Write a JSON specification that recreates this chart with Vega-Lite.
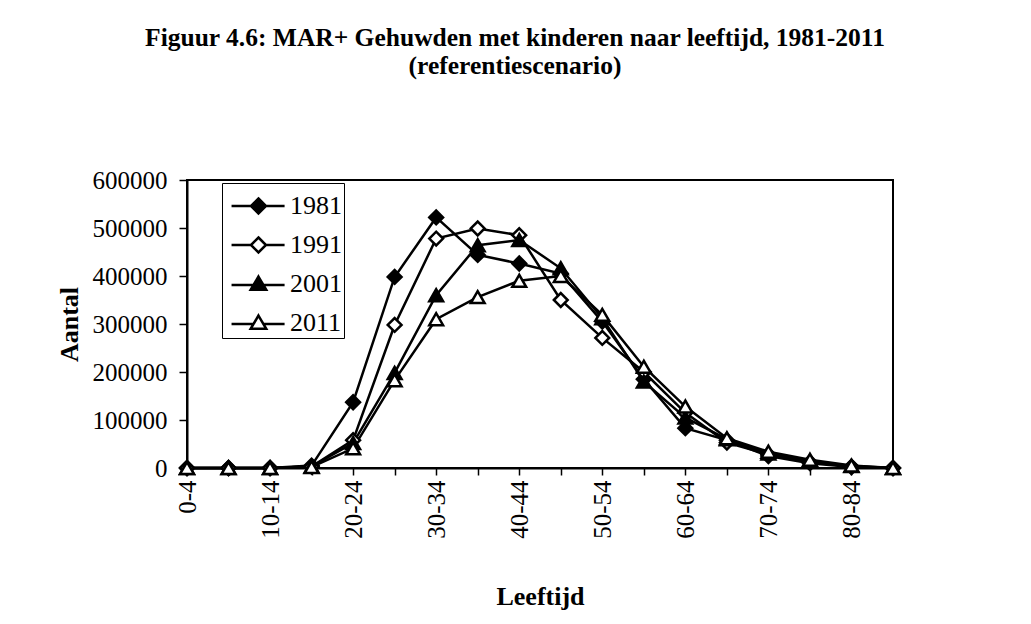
{
  "$schema": "https://vega.github.io/schema/vega-lite/v6.json",
  "width": 706,
  "height": 288,
  "autosize": {"type": "none"},
  "padding": {"left": 187, "top": 180, "right": 138, "bottom": 156},
  "background": "white",
  "title": {
    "text": ["Figuur 4.6: MAR+ Gehuwden met kinderen naar leeftijd, 1981-2011", "(referentiescenario)"],
    "font": "Liberation Serif",
    "fontSize": 25.5,
    "fontWeight": "bold",
    "color": "black",
    "anchor": "middle",
    "frame": "group",
    "dx": -25,
    "offset": 89,
    "lineHeight": 28
  },
  "data": {
    "values": [
      {"jaar": "1981", "leeftijd": "0-4", "aantal": 0},
      {"jaar": "1981", "leeftijd": "5-9", "aantal": 0},
      {"jaar": "1981", "leeftijd": "10-14", "aantal": 0},
      {"jaar": "1981", "leeftijd": "15-19", "aantal": 5000},
      {"jaar": "1981", "leeftijd": "20-24", "aantal": 137000},
      {"jaar": "1981", "leeftijd": "25-29", "aantal": 398000},
      {"jaar": "1981", "leeftijd": "30-34", "aantal": 522000},
      {"jaar": "1981", "leeftijd": "35-39", "aantal": 444000},
      {"jaar": "1981", "leeftijd": "40-44", "aantal": 426000},
      {"jaar": "1981", "leeftijd": "45-49", "aantal": 405000},
      {"jaar": "1981", "leeftijd": "50-54", "aantal": 305000},
      {"jaar": "1981", "leeftijd": "55-59", "aantal": 185000},
      {"jaar": "1981", "leeftijd": "60-64", "aantal": 83000},
      {"jaar": "1981", "leeftijd": "65-69", "aantal": 58000},
      {"jaar": "1981", "leeftijd": "70-74", "aantal": 25000},
      {"jaar": "1981", "leeftijd": "75-79", "aantal": 10000},
      {"jaar": "1981", "leeftijd": "80-84", "aantal": 2000},
      {"jaar": "1981", "leeftijd": "85+", "aantal": 0},
      {"jaar": "1991", "leeftijd": "0-4", "aantal": 0},
      {"jaar": "1991", "leeftijd": "5-9", "aantal": 0},
      {"jaar": "1991", "leeftijd": "10-14", "aantal": 0},
      {"jaar": "1991", "leeftijd": "15-19", "aantal": 3000},
      {"jaar": "1991", "leeftijd": "20-24", "aantal": 58000},
      {"jaar": "1991", "leeftijd": "25-29", "aantal": 298000},
      {"jaar": "1991", "leeftijd": "30-34", "aantal": 478000},
      {"jaar": "1991", "leeftijd": "35-39", "aantal": 499000},
      {"jaar": "1991", "leeftijd": "40-44", "aantal": 485000},
      {"jaar": "1991", "leeftijd": "45-49", "aantal": 350000},
      {"jaar": "1991", "leeftijd": "50-54", "aantal": 271000},
      {"jaar": "1991", "leeftijd": "55-59", "aantal": 200000},
      {"jaar": "1991", "leeftijd": "60-64", "aantal": 115000},
      {"jaar": "1991", "leeftijd": "65-69", "aantal": 53000},
      {"jaar": "1991", "leeftijd": "70-74", "aantal": 28000},
      {"jaar": "1991", "leeftijd": "75-79", "aantal": 12000},
      {"jaar": "1991", "leeftijd": "80-84", "aantal": 3000},
      {"jaar": "1991", "leeftijd": "85+", "aantal": 0},
      {"jaar": "2001", "leeftijd": "0-4", "aantal": 0},
      {"jaar": "2001", "leeftijd": "5-9", "aantal": 0},
      {"jaar": "2001", "leeftijd": "10-14", "aantal": 0},
      {"jaar": "2001", "leeftijd": "15-19", "aantal": 3000},
      {"jaar": "2001", "leeftijd": "20-24", "aantal": 52000},
      {"jaar": "2001", "leeftijd": "25-29", "aantal": 198000},
      {"jaar": "2001", "leeftijd": "30-34", "aantal": 360000},
      {"jaar": "2001", "leeftijd": "35-39", "aantal": 464000},
      {"jaar": "2001", "leeftijd": "40-44", "aantal": 475000},
      {"jaar": "2001", "leeftijd": "45-49", "aantal": 416000},
      {"jaar": "2001", "leeftijd": "50-54", "aantal": 312000},
      {"jaar": "2001", "leeftijd": "55-59", "aantal": 180000},
      {"jaar": "2001", "leeftijd": "60-64", "aantal": 105000},
      {"jaar": "2001", "leeftijd": "65-69", "aantal": 60000},
      {"jaar": "2001", "leeftijd": "70-74", "aantal": 30000},
      {"jaar": "2001", "leeftijd": "75-79", "aantal": 14000},
      {"jaar": "2001", "leeftijd": "80-84", "aantal": 4000},
      {"jaar": "2001", "leeftijd": "85+", "aantal": 0},
      {"jaar": "2011", "leeftijd": "0-4", "aantal": 0},
      {"jaar": "2011", "leeftijd": "5-9", "aantal": 0},
      {"jaar": "2011", "leeftijd": "10-14", "aantal": 0},
      {"jaar": "2011", "leeftijd": "15-19", "aantal": 2000},
      {"jaar": "2011", "leeftijd": "20-24", "aantal": 41000},
      {"jaar": "2011", "leeftijd": "25-29", "aantal": 183000},
      {"jaar": "2011", "leeftijd": "30-34", "aantal": 310000},
      {"jaar": "2011", "leeftijd": "35-39", "aantal": 356000},
      {"jaar": "2011", "leeftijd": "40-44", "aantal": 390000},
      {"jaar": "2011", "leeftijd": "45-49", "aantal": 400000},
      {"jaar": "2011", "leeftijd": "50-54", "aantal": 319000},
      {"jaar": "2011", "leeftijd": "55-59", "aantal": 211000},
      {"jaar": "2011", "leeftijd": "60-64", "aantal": 128000},
      {"jaar": "2011", "leeftijd": "65-69", "aantal": 62000},
      {"jaar": "2011", "leeftijd": "70-74", "aantal": 34000},
      {"jaar": "2011", "leeftijd": "75-79", "aantal": 17000},
      {"jaar": "2011", "leeftijd": "80-84", "aantal": 5000},
      {"jaar": "2011", "leeftijd": "85+", "aantal": 0}
    ]
  },
  "encoding": {
    "x": {
      "field": "leeftijd",
      "type": "ordinal",
      "sort": ["0-4", "5-9", "10-14", "15-19", "20-24", "25-29", "30-34", "35-39", "40-44", "45-49", "50-54", "55-59", "60-64", "65-69", "70-74", "75-79", "80-84", "85+"],
      "scale": {"type": "point", "padding": 0},
      "axis": {
        "title": "Leeftijd",
        "labelAngle": -90,
        "labelExpr": "indexof(['0-4','10-14','20-24','30-34','40-44','50-54','60-64','70-74','80-84'], datum.value) >= 0 ? datum.label : ''",
        "labelOverlap": false,
        "labelPadding": 5,
        "tickSize": 7,
        "titlePadding": 45
      }
    },
    "y": {
      "field": "aantal",
      "type": "quantitative",
      "scale": {"domain": [0, 600000], "nice": false},
      "axis": {
        "title": "Aantal",
        "values": [0, 100000, 200000, 300000, 400000, 500000, 600000],
        "format": "d",
        "tickSize": 8,
        "labelPadding": 12,
        "titlePadding": 10
      }
    }
  },
  "layer": [
    {
      "mark": {"type": "line", "stroke": "black", "strokeWidth": 2.5},
      "encoding": {"detail": {"field": "jaar", "type": "nominal"}}
    },
    {
      "transform": [{"filter": "datum.leeftijd == '0-4'"}],
      "mark": {"type": "point", "clip": true, "stroke": "black", "strokeWidth": 2.5, "opacity": 0},
      "encoding": {
        "shape": {
          "field": "jaar",
          "type": "nominal",
          "scale": {
            "domain": ["1981", "1991", "2001", "2011"],
            "range": [
              "M-0.69,0H0.305M1.075,0H2.03M0.69,-0.385L1.075,0L0.69,0.385L0.305,0Z",
              "M-0.69,0H0.305M1.075,0H2.03M0.69,-0.385L1.075,0L0.69,0.385L0.305,0Z",
              "M-0.69,0.05H0.44M0.94,0.05H2.03M0.69,-0.38L1.09,0.3L0.29,0.3Z",
              "M-0.69,0.05H0.44M0.94,0.05H2.03M0.69,-0.38L1.09,0.3L0.29,0.3Z"
            ]
          },
          "legend": {
            "title": null,
            "encode": {"symbols": {"update": {"stroke": {"value": "black"}, "strokeWidth": {"value": 2.5}, "opacity": {"value": 1}}}}
          }
        },
        "fill": {
          "field": "jaar",
          "type": "nominal",
          "scale": {"domain": ["1981", "1991", "2001", "2011"], "range": ["black", "white", "black", "white"]},
          "legend": {
            "title": null,
            "encode": {"symbols": {"update": {"stroke": {"value": "black"}, "strokeWidth": {"value": 2.5}, "opacity": {"value": 1}}}}
          }
        }
      }
    },
    {
      "mark": {"type": "point", "stroke": "black", "strokeWidth": 2.5, "opacity": 1, "size": 190},
      "encoding": {
        "shape": {
          "field": "jaar",
          "type": "nominal",
          "scale": {"domain": ["1981", "1991", "2001", "2011"], "range": ["diamond", "diamond", "triangle-up", "triangle-up"]},
          "legend": null
        },
        "fill": {
          "field": "jaar",
          "type": "nominal",
          "scale": {"domain": ["1981", "1991", "2001", "2011"], "range": ["black", "white", "black", "white"]},
          "legend": null
        }
      }
    }
  ],
  "resolve": {"scale": {"shape": "independent", "fill": "independent"}},
  "config": {
    "view": {"stroke": "black", "strokeWidth": 2},
    "font": "Liberation Serif",
    "axis": {
      "grid": false,
      "labelFont": "Liberation Serif",
      "labelFontSize": 25,
      "labelColor": "black",
      "titleFont": "Liberation Serif",
      "titleFontSize": 26,
      "titleFontWeight": "bold",
      "titleColor": "black",
      "domainColor": "black",
      "domainWidth": 2,
      "tickColor": "black",
      "tickWidth": 1.5
    },
    "legend": {
      "orient": "none",
      "legendX": 35,
      "legendY": 3,
      "labelFont": "Liberation Serif",
      "labelFontSize": 26,
      "labelColor": "black",
      "labelOffset": 24,
      "strokeColor": "black",
      "fillColor": "white",
      "padding": 2,
      "symbolSize": 1521,
      "symbolStrokeWidth": 2.5,
      "symbolStrokeColor": "black",
      "symbolOpacity": 1,
      "rowPadding": 5
    }
  }
}
